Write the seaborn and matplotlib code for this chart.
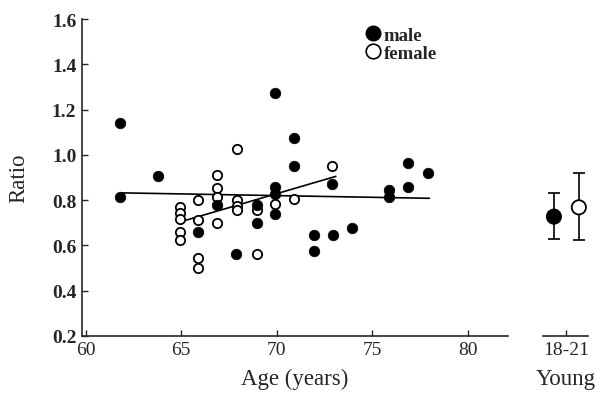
import numpy as np
import pandas as pd
import seaborn as sns
from matplotlib import pyplot as plt
from matplotlib.lines import Line2D

# values
male_age = [61.8, 61.8, 63.8, 65.9, 66.9, 67.85, 68.95, 68.95, 69.9, 69.9, 69.9, 69.9,
            70.9, 70.9, 71.95, 71.95, 72.9, 72.95, 73.95, 75.9, 75.9, 76.9, 76.9, 77.9]
male_ratio = [1.14, 0.815, 0.905, 0.66, 0.78, 0.56, 0.78, 0.70, 1.275, 0.86, 0.825, 0.74,
              1.075, 0.95, 0.645, 0.575, 0.87, 0.645, 0.675, 0.845, 0.815, 0.965, 0.86, 0.92]

female_age = [64.95, 64.95, 64.95, 64.95, 64.95, 65.9, 65.9, 65.9, 65.9,
              66.9, 66.9, 66.9, 66.9, 67.9, 67.9, 67.9, 67.9, 68.95, 68.95,
              69.9, 70.9, 72.9]
female_ratio = [0.77, 0.745, 0.715, 0.66, 0.625, 0.80, 0.71, 0.545, 0.50,
                0.91, 0.855, 0.815, 0.70, 1.025, 0.80, 0.775, 0.755, 0.755, 0.56,
                0.785, 0.805, 0.95]

male_fit_age = [61.9, 78.0]
male_fit_ratio = [0.832, 0.808]
female_fit_age = [65.0, 73.1]
female_fit_ratio = [0.705, 0.905]

young_sex = ["male", "female"]
young_mean = [0.727, 0.768]
young_low = [0.627, 0.624]
young_high = [0.832, 0.919]

x_ticks = [60, 65, 70, 75, 80]
y_ticks = [0.2, 0.4, 0.6, 0.8, 1.0, 1.2, 1.4, 1.6]

sns.set_style("ticks")
plt.rcParams["font.family"] = ["Liberation Serif", "DejaVu Serif"]

male_df = pd.DataFrame({"age": male_age, "ratio": male_ratio})
female_df = pd.DataFrame({"age": female_age, "ratio": female_ratio})
male_fit = pd.DataFrame({"age": male_fit_age, "ratio": male_fit_ratio})
female_fit = pd.DataFrame({"age": female_fit_age, "ratio": female_fit_ratio})

fig = plt.figure(figsize=(5.98, 4.02), dpi=100)
ax = fig.add_axes([0.137, 0.162, 0.712, 0.788])
ax2 = fig.add_axes([0.908, 0.162, 0.075, 0.788])

sns.lineplot(x="age", y="ratio", data=male_fit, ax=ax, color="black", linewidth=1.2)
sns.lineplot(x="age", y="ratio", data=female_fit, ax=ax, color="black", linewidth=1.2)
sns.scatterplot(x="age", y="ratio", data=female_df, ax=ax, color="white",
                edgecolor="black", linewidth=1.3, s=45, zorder=3)
sns.scatterplot(x="age", y="ratio", data=male_df, ax=ax, color="black",
                edgecolor="black", linewidth=0.5, s=58, zorder=4)

ax.set_xlim(59.8, 82.1)
ax.set_ylim(0.2, 1.6)
ax.set_xticks(x_ticks)
ax.set_yticks(y_ticks)
ax.set_yticklabels([f"{v:.1f}" for v in y_ticks], fontweight="bold")
ax.tick_params(direction="in", length=4, width=1, labelsize=14, pad=4)
sns.despine(ax=ax)
for s in ["left", "bottom"]:
    ax.spines[s].set_linewidth(1.2)
ax.set_xlabel("Age (years)", fontsize=16.5, labelpad=7)
ax.set_ylabel("Ratio", fontsize=16.5, labelpad=16)

handles = [Line2D([], [], marker="o", ls="", color="black", markersize=10.5),
           Line2D([], [], marker="o", ls="", markerfacecolor="white",
                  markeredgecolor="black", markeredgewidth=1.2, markersize=10.5)]
ax.legend(handles, ["male", "female"], frameon=False, loc="upper left",
          bbox_to_anchor=(0.645, 1.0), handletextpad=0.05, labelspacing=0.05,
          prop={"weight": "bold", "size": 13.5}, handlelength=1.0, borderaxespad=0)

# young group
young_df = pd.DataFrame({"pos": [0.0, 1.0], "ratio": young_mean, "sex": young_sex})
err = [np.subtract(young_mean, young_low), np.subtract(young_high, young_mean)]
ax2.errorbar(young_df["pos"], young_df["ratio"], yerr=err, fmt="none",
             ecolor="black", elinewidth=1.2, capsize=4, capthick=1.2)
sns.scatterplot(x="pos", y="ratio", data=young_df, ax=ax2, hue="sex",
                palette={"male": "black", "female": "white"}, edgecolor="black",
                linewidth=1.3, s=105, zorder=4, legend=False)
ax2.set_xlim(-0.439, 1.361)
ax2.set_ylim(0.2, 1.6)
ax2.set_xticks([0.5])
ax2.set_xticklabels(["18-21"])
ax2.set_yticks([])
ax2.tick_params(direction="in", length=4, width=1, labelsize=14, pad=4)
sns.despine(ax=ax2, left=True)
ax2.spines["bottom"].set_linewidth(1.2)
ax2.set_xlabel("Young", fontsize=16.5, labelpad=7)
ax2.set_ylabel("")

fig.savefig("out.png", dpi=100)
